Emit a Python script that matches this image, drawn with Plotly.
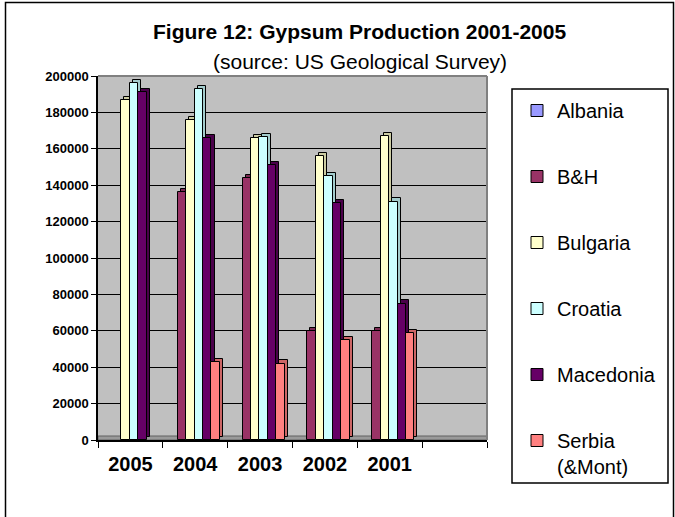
import plotly.graph_objects as go

# ---- data ----
years = ["2005", "2004", "2003", "2002", "2001"]
countries = ["Albania", "B&H", "Bulgaria", "Croatia", "Macedonia", "Serbia<br>(&Mont)"]
albania = [None, None, None, None, None]
bh = [None, 136000, 144000, 60000, 60000]
bulgaria = [187000, 176000, 166000, 156000, 167000]
croatia = [196000, 193000, 166500, 145000, 131000]
macedonia = [191000, 166000, 151000, 130000, 75000]
serbia = [None, 43000, 42000, 55000, 59000]
y_ticks = list(range(0, 200001, 20000))

series = [albania, bh, bulgaria, croatia, macedonia, serbia]
colors = ["#9999FF", "#993366", "#FFFFCC", "#CCFFFF", "#660066", "#FF8080"]
side_colors = ["#7A7ACC", "#7A2952", "#CCCCA3", "#A3CCCC", "#4A004A", "#CC6666"]

# ---- layout geometry (pixels) ----
W, H = 675, 517
L, R, T, B = 98, 487, 76, 440
pw, ph = R - L, B - T


def px_x(p):
    return (p - L) / pw


def px_y(p):
    return (B - p) / ph


FONT = "Arial, 'Liberation Sans', sans-serif"
slot_w = 0.13
slot0 = -0.40
dx = 0.047      # depth offset in category units (~3px)
dy = 1700       # depth offset in value units (~3px)

xpos = list(range(len(years)))
fig = go.Figure()

# depth (side/top) faces first
for i, (vals, c) in enumerate(zip(series, side_colors)):
    fig.add_trace(go.Bar(
        x=xpos, y=vals, base=dy, offset=slot0 + slot_w * i + dx, width=slot_w,
        marker=dict(color=c, line=dict(color="black", width=1)),
        showlegend=False, hoverinfo="skip"))

# front faces
for i, (vals, c, name) in enumerate(zip(series, colors, countries)):
    fig.add_trace(go.Bar(
        x=xpos, y=vals, offset=slot0 + slot_w * i, width=slot_w, name=name,
        legendgroup=name,
        marker=dict(color=c, line=dict(color="black", width=1))))

shapes = [
    # outer chart border
    dict(type="rect", xref="paper", yref="paper", x0=px_x(5.5), x1=px_x(673.5),
         y0=px_y(540), y1=px_y(2.5), line=dict(color="black", width=1.5)),
    # legend box
    dict(type="rect", xref="paper", yref="paper", x0=px_x(512), x1=px_x(668),
         y0=px_y(483), y1=px_y(89), line=dict(color="black", width=1.5)),
    # floor of the 3-D plot
    dict(type="rect", xref="paper", yref="paper", x0=0, x1=1, y0=0, y1=px_y(436),
         fillcolor="#9A9A9A", line=dict(color="#606060", width=1), layer="below"),
    # wall border (top / right)
    dict(type="line", xref="paper", yref="paper", x0=0, x1=1, y0=1, y1=1,
         line=dict(color="#808080", width=2)),
    dict(type="line", xref="paper", yref="paper", x0=1, x1=1, y0=0, y1=1,
         line=dict(color="#808080", width=2)),
]

fig.update_layout(
    width=W, height=H,
    margin=dict(l=L, r=W - R, t=T, b=H - B),
    paper_bgcolor="white", plot_bgcolor="#C0C0C0",
    barmode="overlay",
    font=dict(family=FONT, color="black"),
    shapes=shapes,
    annotations=[
        dict(text="<b>Figure 12: Gypsum Production 2001-2005</b>", xref="paper", yref="paper",
             x=px_x(359), y=px_y(32), xanchor="center", yanchor="middle", showarrow=False,
             font=dict(size=21, family=FONT, color="black")),
        dict(text="(source: US Geological Survey)", xref="paper", yref="paper",
             x=px_x(360), y=px_y(62), xanchor="center", yanchor="middle", showarrow=False,
             font=dict(size=21, family=FONT, color="black")),
    ],
    legend=dict(x=px_x(517), y=px_y(91), xanchor="left", yanchor="top",
                font=dict(size=20, family=FONT, color="black"),
                bgcolor="rgba(0,0,0,0)", borderwidth=0, maxheight=500,
                traceorder="grouped", tracegroupgap=37, valign="top"),
    bargap=0,
)

fig.update_xaxes(
    range=[-0.5, 5.5], tickvals=xpos, ticktext=years, ticks="", showgrid=False,
    zeroline=False, showline=True, linecolor="black", linewidth=1.5,
    tickfont=dict(size=20, family=FONT, color="black", weight="bold"),
    ticklabelstandoff=5,
    minor=dict(tick0=-0.5, dtick=1, ticks="outside", ticklen=6, tickcolor="black",
               showgrid=False),
    fixedrange=True,
)
fig.update_yaxes(
    range=[0, 200000], tickvals=y_ticks, ticktext=[str(v) for v in y_ticks],
    ticks="outside", ticklen=5, tickcolor="black", showgrid=True, gridcolor="black",
    gridwidth=1, zeroline=False, showline=True, linecolor="black", linewidth=1.5,
    tickfont=dict(size=13, family=FONT, color="black", weight="bold"), fixedrange=True,
)

fig.write_html("out.html", config={"displayModeBar": False},
               post_script="document.body.style.margin='0px';")
